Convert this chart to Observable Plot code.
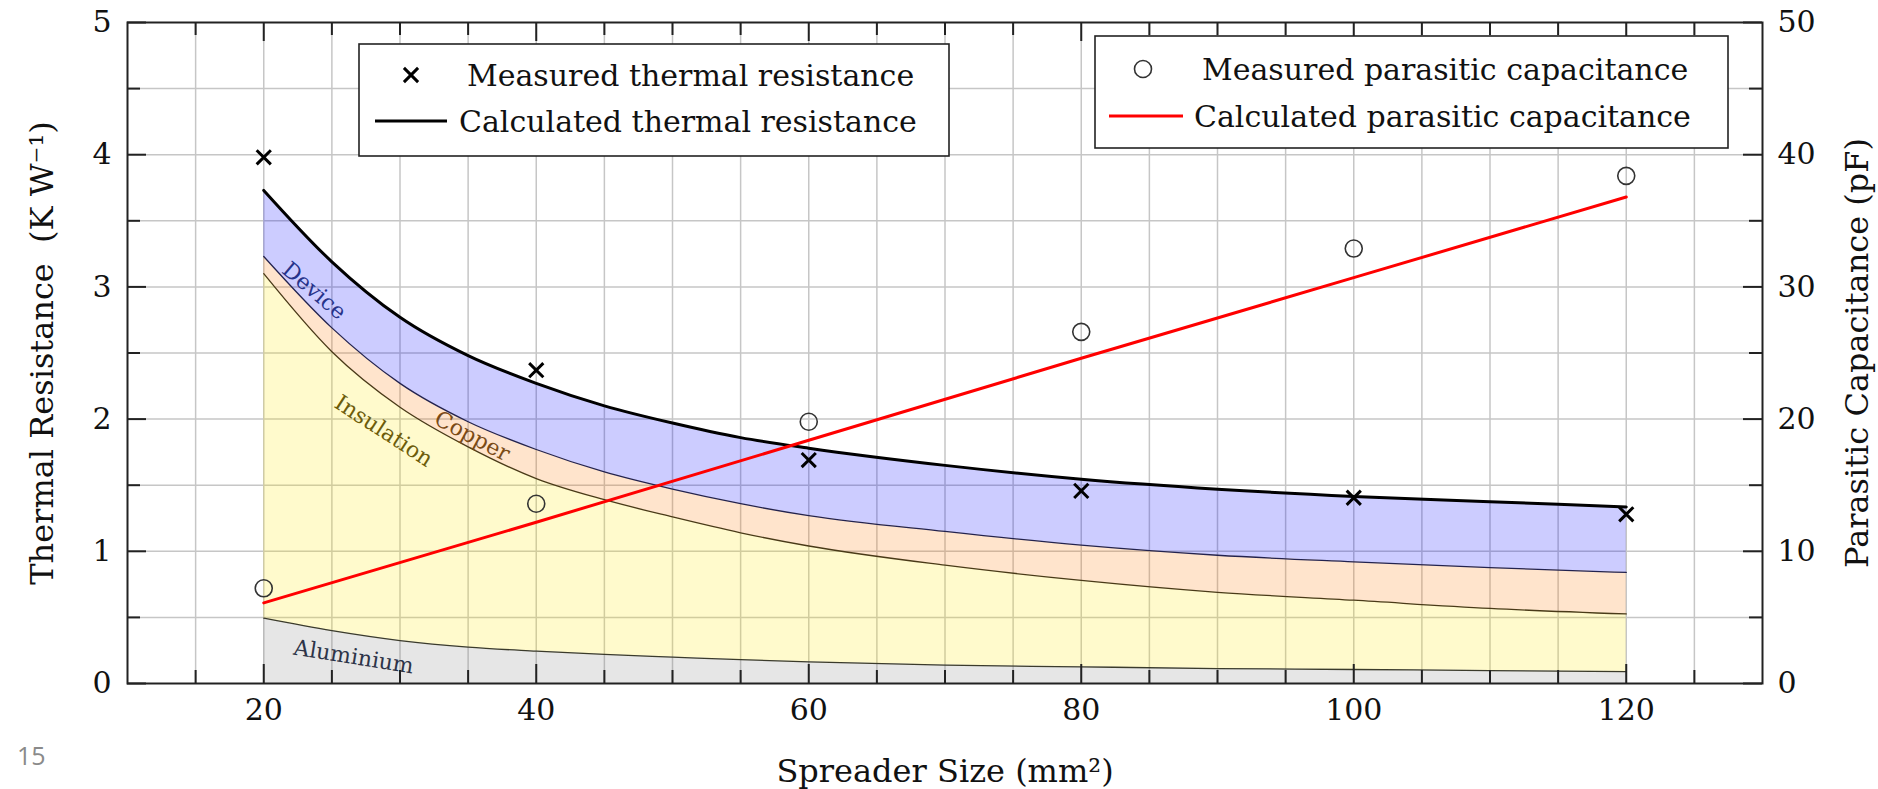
<!DOCTYPE html>
<html><head><meta charset="utf-8">
<script src="https://cdn.jsdelivr.net/npm/d3@7"></script>
<script src="https://cdn.jsdelivr.net/npm/@observablehq/plot@0.6"></script>
<style>html,body{margin:0;padding:0;background:#fff;overflow:hidden}</style>
</head><body><div id="chart"></div>
<script>
// ---------- data ----------
const spreaderSize      = [20, 25, 30, 35, 40, 45, 50, 55, 60, 70, 80, 90, 100, 110, 120];
const totalResistance   = [3.73, 3.19, 2.77, 2.48, 2.27, 2.10, 1.97, 1.86, 1.78, 1.65, 1.545, 1.47, 1.415, 1.375, 1.335];
const copperTop         = [3.23, 2.69, 2.27, 1.98, 1.77, 1.60, 1.47, 1.36, 1.27, 1.15, 1.046, 0.97, 0.92, 0.876, 0.84];
const insulationTop     = [3.10, 2.51, 2.09, 1.79, 1.55, 1.39, 1.26, 1.14, 1.04, 0.895, 0.78, 0.69, 0.63, 0.568, 0.526];
const aluminiumTop      = [0.494, 0.40, 0.325, 0.275, 0.245, 0.22, 0.20, 0.18, 0.164, 0.139, 0.126, 0.113, 0.106, 0.098, 0.09];

const measuredSize          = [20, 40, 60, 80, 100, 120];
const measuredResistance    = [3.98, 2.37, 1.69, 1.457, 1.405, 1.28];
const measuredCapacitance   = [7.2, 13.6, 19.8, 26.6, 32.9, 38.4];
const calculatedSize        = [20, 40, 60, 80, 100, 120];
const calculatedCapacitance = [6.1, 12.2, 18.4, 24.6, 30.7, 36.8];

const xMajorTicks = [20, 40, 60, 80, 100, 120];
const xMinorTicks = [15, 25, 30, 35, 45, 50, 55, 65, 70, 75, 85, 90, 95, 105, 110, 115, 125];
const xGridLines  = [15, 20, 25, 30, 35, 40, 45, 50, 55, 60, 65, 70, 75, 80, 85, 90, 95, 100, 105, 110, 115, 120, 125];
const yLeftTicks  = [0, 1, 2, 3, 4, 5];
const yRightTicks = [0, 10, 20, 30, 40, 50];
const yMinorTicks = [0.5, 1.5, 2.5, 3.5, 4.5];
const yGridLines  = [0.5, 1, 1.5, 2, 2.5, 3, 3.5, 4, 4.5];

const bandLabels = [
  {text: "Device",     x: 23.7, y: 2.97, angle: 40, color: "#27338a"},
  {text: "Insulation", x: 28.8, y: 1.91, angle: 33, color: "#6d5c0a"},
  {text: "Copper",     x: 35.3, y: 1.87, angle: 28, color: "#7b4b16"},
  {text: "Aluminium",  x: 26.6, y: 0.20, angle: 9,  color: "#2d3448"}
];

// capacitance (pF, right axis 0–50) shares the left scale (0–5)
const capToY = c => c / 10;

// ---------- layout ----------
const W = 1878, H = 789;
const mL = 127, mR = W - 1762, mT = 22, mB = H - 683;
const frameW = W - mL - mR, frameH = H - mT - mB;
const majorLen = 19, minorLen = 13;
const font = "DejaVu Serif";

const bands = spreaderSize.map((x, i) => ({
  x, al: aluminiumTop[i], ins: insulationTop[i], cu: copperTop[i], tot: totalResistance[i]
}));
const measured = measuredSize.map((x, i) => ({x, r: measuredResistance[i], c: measuredCapacitance[i]}));
const calc = calculatedSize.map((x, i) => ({x, c: calculatedCapacitance[i]}));
const curve = "monotone-x";
const gridColor = "#c6c6c6";

const plot = Plot.plot({
  width: W, height: H,
  marginLeft: mL, marginRight: mR, marginTop: mT, marginBottom: mB,
  x: {domain: [10, 130], axis: null},
  y: {domain: [0, 5], axis: null},
  style: {fontFamily: font, background: "white", overflow: "visible"},
  marks: [
    Plot.ruleX(xGridLines, {x: d => d, stroke: gridColor, strokeWidth: 1.5}),
    Plot.ruleY(yGridLines, {y: d => d, stroke: gridColor, strokeWidth: 1.5}),

    Plot.areaY(bands, {x: "x", y1: 0,     y2: "al",  fill: "#808080", fillOpacity: 0.2, curve}),
    Plot.areaY(bands, {x: "x", y1: "al",  y2: "ins", fill: "#ffe600", fillOpacity: 0.2, curve}),
    Plot.areaY(bands, {x: "x", y1: "ins", y2: "cu",  fill: "#ff7800", fillOpacity: 0.2, curve}),
    Plot.areaY(bands, {x: "x", y1: "cu",  y2: "tot", fill: "#0000ff", fillOpacity: 0.2, curve}),

    Plot.lineY(bands, {x: "x", y: "al",  stroke: "#3b3b2b", strokeWidth: 1.3, curve}),
    Plot.lineY(bands, {x: "x", y: "ins", stroke: "#4a3a18", strokeWidth: 1.3, curve}),
    Plot.lineY(bands, {x: "x", y: "cu",  stroke: "#23234f", strokeWidth: 1.3, curve}),

    Plot.text(bandLabels, {x: "x", y: "y", text: "text", rotate: "angle", fill: "color",
      fontSize: 22, textAnchor: "middle", ariaLabel: "band-labels"}),

    Plot.lineY(bands, {x: "x", y: "tot", stroke: "#000", strokeWidth: 3, curve}),
    Plot.line(calc, {x: "x", y: d => capToY(d.c), stroke: "#ff0000", strokeWidth: 3}),

    Plot.dot(measured, {x: "x", y: "r", symbol: "times", r: 6.5, stroke: "#000", strokeWidth: 3}),
    Plot.dot(measured, {x: "x", y: d => capToY(d.c), symbol: "circle", r: 8.5, fill: "none", stroke: "#333", strokeWidth: 1.6}),

    Plot.frame({stroke: "#222", strokeWidth: 2}),

    // inward ticks
    Plot.tickX(xMajorTicks, {x: d => d, insetTop: frameH - majorLen, stroke: "#222", strokeWidth: 2}),
    Plot.tickX(xMinorTicks, {x: d => d, insetTop: frameH - minorLen, stroke: "#222", strokeWidth: 2}),
    Plot.tickX(xMajorTicks, {x: d => d, insetBottom: frameH - majorLen, stroke: "#222", strokeWidth: 2}),
    Plot.tickX(xMinorTicks, {x: d => d, insetBottom: frameH - minorLen, stroke: "#222", strokeWidth: 2}),
    Plot.tickY(yLeftTicks, {y: d => d, insetRight: frameW - majorLen, stroke: "#222", strokeWidth: 2}),
    Plot.tickY(yMinorTicks, {y: d => d, insetRight: frameW - minorLen, stroke: "#222", strokeWidth: 2}),
    Plot.tickY(yRightTicks, {y: d => capToY(d), insetLeft: frameW - majorLen, stroke: "#222", strokeWidth: 2}),
    Plot.tickY(yMinorTicks, {y: d => d, insetLeft: frameW - minorLen, stroke: "#222", strokeWidth: 2}),

    // tick labels
    Plot.text(xMajorTicks, {x: d => d, text: d => String(d), frameAnchor: "bottom", lineAnchor: "top",
      textAnchor: "middle", dy: 15, fontSize: 30, fill: "#111"}),
    Plot.text(yLeftTicks, {y: d => d, text: d => String(d), frameAnchor: "left", textAnchor: "end",
      dx: -16, fontSize: 30, fill: "#111"}),
    Plot.text(yRightTicks, {y: d => capToY(d), text: d => String(d), frameAnchor: "right", textAnchor: "start",
      dx: 15, fontSize: 30, fill: "#111"}),

    // axis titles
    Plot.text(["Spreader Size (mm²)"], {frameAnchor: "bottom", lineAnchor: "bottom", textAnchor: "middle",
      dy: 98, fontSize: 32, fill: "#111", ariaLabel: "x-title"}),
    Plot.text(["Thermal Resistance  (K W⁻¹)"], {frameAnchor: "left", lineAnchor: "bottom", textAnchor: "middle",
      rotate: -90, dx: -75, fontSize: 32, fill: "#111", ariaLabel: "y-title"}),
    Plot.text(["Parasitic Capacitance (pF)"], {frameAnchor: "right", lineAnchor: "bottom", textAnchor: "middle",
      rotate: -90, dx: 105, fontSize: 32, fill: "#111"})
  ]
});

document.getElementById("chart").appendChild(plot);

const svg = d3.select(plot);
svg.selectAll('g[aria-label="band-labels"] text').style("letter-spacing", "2.6px");

// real superscripts for the unit parts of the titles
function superscript(sel, base, sup, tail) {
  sel.text(null);
  sel.append("tspan").text(base);
  sel.append("tspan").attr("font-size", "70%").attr("baseline-shift", "42%").text(sup);
  sel.append("tspan").text(tail);
}
superscript(svg.select('g[aria-label="x-title"] text'), "Spreader Size (mm", "2", ")");
superscript(svg.select('g[aria-label="y-title"] text'), "Thermal Resistance  (K W", "−1", ")");

// ---------- legends ----------
const legendFont = 30;
function drawLegend(box, rows) {
  const g = svg.append("g").attr("font-family", font).attr("font-size", legendFont)
    .attr("fill", "#111").attr("text-anchor", "start");
  g.append("rect").attr("x", box.x).attr("y", box.y).attr("width", box.w).attr("height", box.h)
    .attr("fill", "white").attr("stroke", "#222").attr("stroke-width", 1.6);
  rows.forEach(r => {
    if (r.kind === "times") {
      g.append("path").attr("d", d3.symbol(d3.symbolTimes, Math.PI * 6.5 * 6.5)())
        .attr("transform", `translate(${r.sx},${r.cy})`).attr("stroke", "#000").attr("stroke-width", 3).attr("fill", "none");
    } else if (r.kind === "circle") {
      g.append("circle").attr("cx", r.sx).attr("cy", r.cy).attr("r", 8.5)
        .attr("fill", "none").attr("stroke", "#333").attr("stroke-width", 1.6);
    } else {
      g.append("line").attr("x1", r.x1).attr("x2", r.x2).attr("y1", r.cy).attr("y2", r.cy)
        .attr("stroke", r.color).attr("stroke-width", 3);
    }
    g.append("text").attr("x", r.tx).attr("y", r.cy + 11).attr("text-anchor", "start").text(r.label);
  });
}
drawLegend({x: 359, y: 44, w: 590, h: 112}, [
  {kind: "times", sx: 411, cy: 75, tx: 467, label: "Measured thermal resistance"},
  {kind: "line", x1: 375, x2: 447, color: "#000", cy: 121, tx: 459, label: "Calculated thermal resistance"}
]);
drawLegend({x: 1095, y: 36, w: 633, h: 112}, [
  {kind: "circle", sx: 1143, cy: 69, tx: 1202, label: "Measured parasitic capacitance"},
  {kind: "line", x1: 1109, x2: 1183, color: "#ff0000", cy: 116, tx: 1194, label: "Calculated parasitic capacitance"}
]);

// slide number
svg.append("text").attr("x", 17).attr("y", 765).attr("font-family", "Open Sans")
  .attr("text-anchor", "start").attr("font-size", 25).attr("fill", "#8a8a8a").text("15");
</script>
</body></html>
